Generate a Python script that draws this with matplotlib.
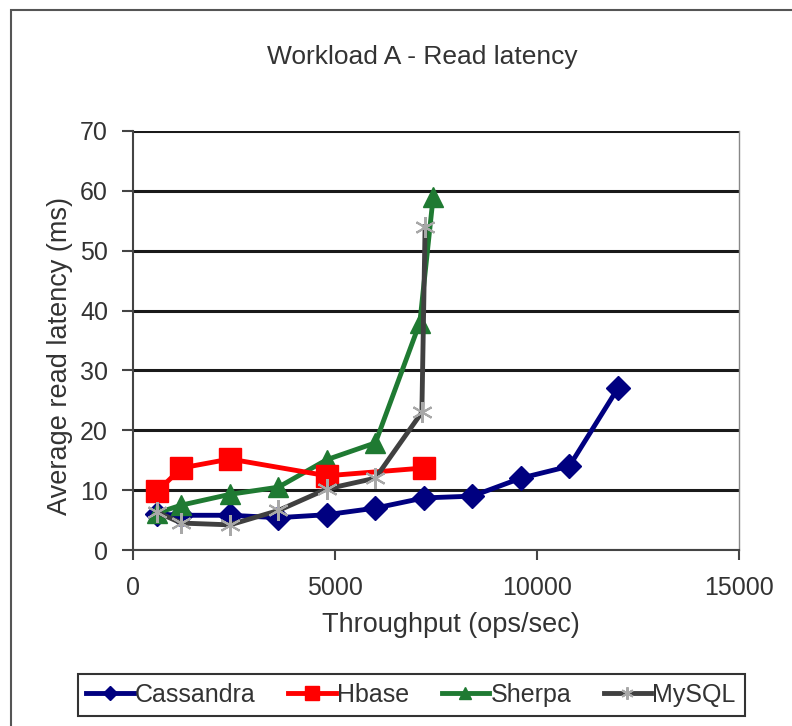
import matplotlib
matplotlib.use('Agg')
import matplotlib.pyplot as plt
from matplotlib.patches import Rectangle

plt.rcParams['font.family'] = ['Liberation Sans', 'DejaVu Sans']

# data (throughput ops/sec, latency ms)
cassandra_x = [600, 1200, 2400, 3600, 4800, 6000, 7200, 8400, 9600, 10800, 12000]
cassandra_y = [6.0, 5.8, 5.8, 5.4, 5.9, 7.0, 8.7, 9.0, 12.0, 14.0, 27.0]

hbase_x = [600, 1200, 2400, 4800, 7200]
hbase_y = [9.8, 13.7, 15.2, 12.4, 13.7]

sherpa_x = [600, 1200, 2400, 3600, 4800, 6000, 7100, 7430]
sherpa_y = [6.2, 7.5, 9.3, 10.5, 15.1, 17.9, 38.0, 59.0]

mysql_x = [600, 1200, 2400, 3600, 4800, 6000, 7150, 7230]
mysql_y = [6.3, 4.5, 4.2, 6.6, 10.2, 12.0, 23.0, 54.0]

fig = plt.figure(figsize=(7.92, 7.26), dpi=100)
fig.patch.set_facecolor('white')
ax = fig.add_axes([133/792, 1 - 550/726, 606/792, 419/726])

ax.plot(cassandra_x, cassandra_y, color='#000080', lw=3.5, marker='D', ms=12,
        label='Cassandra', zorder=3)
ax.plot(hbase_x, hbase_y, color='#ff0000', lw=3.5, marker='s', ms=16,
        label='Hbase', zorder=5)
ax.plot(sherpa_x, sherpa_y, color='#1f7a32', lw=3.5, marker='^', ms=15,
        label='Sherpa', zorder=4)
ax.plot(mysql_x, mysql_y, color='#404040', lw=3.5, marker=(6, 2, 0), ms=15,
        mec='#a8a8a8', mew=1.5, label='MySQL', zorder=6)

ax.set_xlim(0, 15000)
ax.set_ylim(0, 70)
ax.set_xticks([0, 5000, 10000, 15000])
ax.set_yticks(range(0, 71, 10))
ax.yaxis.grid(True, color='#1a1a1a', lw=2.2)
ax.set_axisbelow(True)

for side in ['left', 'bottom']:
    ax.spines[side].set_color('#444444')
    ax.spines[side].set_linewidth(1.5)
ax.spines['top'].set_visible(False)
ax.spines['right'].set_color('#888888')
ax.spines['right'].set_linewidth(1)

ax.tick_params(axis='y', length=8, width=1.5, color='#444444', pad=10,
               labelsize=18, labelcolor='#333333')
ax.tick_params(axis='x', length=7, width=1.5, color='#444444', pad=12,
               labelsize=18, labelcolor='#333333')

fig.text(422/792, 1 - 57/726, 'Workload A - Read latency', ha='center',
         va='center', fontsize=19, color='#333333')
fig.text(451/792, 1 - 625/726, 'Throughput (ops/sec)', ha='center',
         va='center', fontsize=19.5, color='#333333')
fig.text(60/792, 1 - 356/726, 'Average read latency (ms)', ha='center',
         va='center', rotation=90, fontsize=19.5, color='#333333')

leg = fig.legend(loc='center', bbox_to_anchor=(411/792, 1 - 695/726), ncol=4,
                 fontsize=18, frameon=True, fancybox=False, handlelength=1.9,
                 handletextpad=0.05, columnspacing=1.3, borderpad=0.35,
                 borderaxespad=0, markerscale=0.6)
leg.get_frame().set_edgecolor('black')
leg.get_frame().set_linewidth(1.5)
for t in leg.get_texts():
    t.set_color('#333333')

# outer chart border (left and top visible)
fig.add_artist(Rectangle((11/792, -0.05), 1.1, 1.05 - 10/726,
                         transform=fig.transFigure, fill=False,
                         edgecolor='#555555', lw=1.5))

fig.savefig('out.png', dpi=100)
